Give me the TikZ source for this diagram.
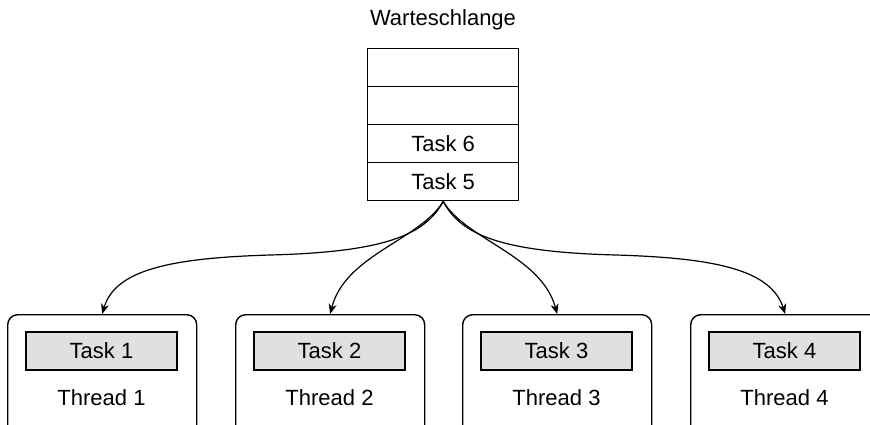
\documentclass[tikz,border=0pt]{standalone}
\usepackage{fontspec}
\setmainfont{Liberation Sans}
\usetikzlibrary{arrows.meta}
\definecolor{taskgray}{HTML}{E0E0E0}
\begin{document}
\begin{tikzpicture}[x=1pt,y=-1pt,
  line width=1.4pt,
  every node/.style={font=\fontsize{22}{26}\selectfont},
  qcell/.style={draw, minimum width=151pt, minimum height=38pt, inner sep=0pt, anchor=north west},
  threadbox/.style={draw, rounded corners=10pt, minimum width=189pt, minimum height=130pt, inner sep=0pt, anchor=north west},
  taskbox/.style={draw, fill=taskgray, minimum width=151pt, minimum height=38pt, inner sep=0pt},
  flow/.style={-{Stealth[length=10pt,width=8pt,inset=3pt]}, line width=1.2pt}
]
\useasboundingbox (0,0) rectangle (870,424);

% queue
\node (title) at (443,20) {Warteschlange};
\node[qcell] (q1) at (367,48) {};
\node[qcell] (q2) at (367,86) {};
\node[qcell] (q3) at (367,124) {Task 6};
\node[qcell] (q4) at (367,162) {Task 5};

% worker threads
\foreach \i/\x in {1/7, 2/235, 3/462, 4/690}{
  \node[threadbox] (t\i) at (\x,314) {};
  \node[taskbox] (k\i) at ([xshift=94.5pt,yshift=-37pt]t\i.north west) {Task \i};
  \node (l\i) at ([xshift=94.5pt,yshift=-84pt]t\i.north west) {Thread \i};
}

% dispatch from the queue head
\draw[flow] (q4.south) .. controls (425,235) and (385,252) .. (270,255)
  .. controls (170,258) and (115,270) .. (t1.north);
\draw[flow] (q4.south) .. controls (420,240) and (345,255) .. (t2.north);
\draw[flow] (q4.south) .. controls (466,240) and (541,255) .. (t3.north);
\draw[flow] (q4.south) .. controls (461,235) and (501,252) .. (616,255)
  .. controls (716,258) and (771,270) .. (t4.north);
\end{tikzpicture}
\end{document}
